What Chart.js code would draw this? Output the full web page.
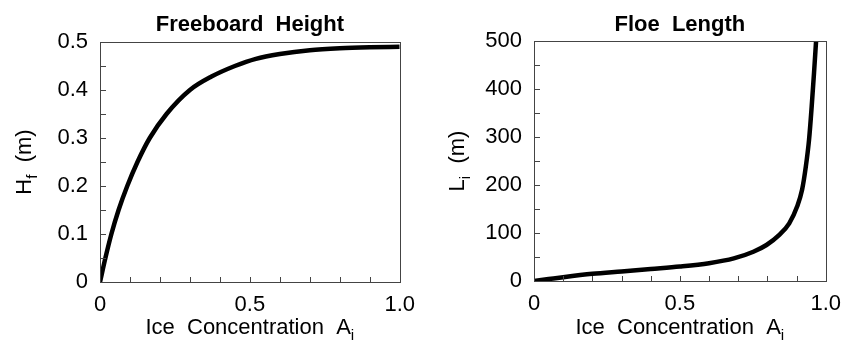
<!DOCTYPE html>
<html>
<head>
<meta charset="utf-8">
<script src="https://cdn.jsdelivr.net/npm/chart.js@4/dist/chart.umd.min.js"></script>
<style>
  body { margin: 0; background: #fff; width: 851px; height: 343px; position: relative; overflow: hidden; }
  canvas { position: absolute; top: 0; }
</style>
</head>
<body>
<canvas id="left" width="425" height="343" style="left:0"></canvas>
<canvas id="right" width="421" height="343" style="left:430px"></canvas>
<script>
// Freeboard height H_f (m) vs ice concentration A_i
const freeboardA = [0, 0.018, 0.038, 0.062, 0.091, 0.125, 0.166, 0.222, 0.30, 0.372, 0.45, 0.52, 0.6, 0.7, 0.8, 0.9, 1.0];
const freeboardH = [0, 0.05, 0.1, 0.15, 0.2, 0.25, 0.3, 0.35, 0.40, 0.428, 0.45, 0.465, 0.475, 0.483, 0.487, 0.489, 0.49];

// Floe length L_i (m) vs ice concentration A_i
const floeA = [0, 0.05, 0.1, 0.2, 0.3, 0.4, 0.5, 0.6, 0.685, 0.752, 0.797, 0.841, 0.875, 0.902, 0.919, 0.932, 0.943, 0.952, 0.96, 0.967];
const floeL = [0, 4, 8, 15, 20, 25, 30, 37, 47, 61, 75, 96, 120, 155, 190, 239, 295, 364, 434, 500];

const xTickLabels = ['0', '0.5', '1.0'];
const freeboardTickLabels = ['0', '0.1', '0.2', '0.3', '0.4', '0.5'];
const floeTickLabels = ['0', '100', '200', '300', '400', '500'];

const FONT = '"Liberation Sans", Arial, sans-serif';
const AXIS = '#444';

function drawRich(ctx, parts, x, y, size) {
    let w = 0;
    parts.forEach(p => {
        ctx.font = (p.sub ? size * 0.7 : size) + 'px ' + FONT;
        w += ctx.measureText(p.t).width;
    });
    let cx = x - w / 2;
    ctx.textBaseline = 'alphabetic';
    ctx.textAlign = 'left';
    parts.forEach(p => {
        ctx.font = (p.sub ? size * 0.7 : size) + 'px ' + FONT;
        ctx.fillText(p.t, cx, p.sub ? y + size * 0.25 : y);
        cx += ctx.measureText(p.t).width;
    });
}

const framePlugin = {
    id: 'frame',
    afterDraw(chart, args, opts) {
        const ctx = chart.ctx;
        const a = chart.chartArea;
        const xs = chart.scales.x, ys = chart.scales.y;
        ctx.save();
        ctx.strokeStyle = AXIS;
        ctx.lineWidth = 1;
        ctx.strokeRect(Math.round(a.left) + 0.5, Math.round(a.top) + 0.5, Math.round(a.right - a.left), Math.round(a.bottom - a.top));
        ctx.beginPath();
        xs.ticks.forEach(t => {
            const px = Math.round(xs.getPixelForValue(t.value)) + 0.5;
            ctx.moveTo(px, a.bottom);
            ctx.lineTo(px, a.bottom - 5);
        });
        ys.ticks.forEach(t => {
            const py = Math.round(ys.getPixelForValue(t.value)) + 0.5;
            ctx.moveTo(a.left, py);
            ctx.lineTo(a.left + 6, py);
        });
        ctx.stroke();
        ctx.fillStyle = '#000';
        ctx.font = 'bold 22px ' + FONT;
        ctx.textAlign = 'center';
        ctx.textBaseline = 'alphabetic';
        const mid = (a.left + a.right) / 2;
        ctx.fillText(opts.title, mid, 31);
        drawRich(ctx, [{t: 'Ice  Concentration  A'}, {t: 'i', sub: true}], mid, 334, 22);
        ctx.translate(opts.yTitleX, (a.top + a.bottom) / 2);
        ctx.rotate(-Math.PI / 2);
        drawRich(ctx, [{t: opts.yTitle[0]}, {t: opts.yTitle[1], sub: true}, {t: '  (m)'}], 0, 0, 22);
        ctx.restore();
    }
};

function makeChart(id, xs, ys, yMax, yStep, yLabels, cfg) {
    const points = xs.map((v, i) => ({x: v, y: ys[i]}));
    return new Chart(document.getElementById(id), {
        type: 'scatter',
        data: {
            datasets: [{
                data: points,
                showLine: true,
                borderColor: '#000',
                borderWidth: 4.5,
                pointRadius: 0,
                cubicInterpolationMode: 'monotone',
            }]
        },
        options: {
            responsive: false,
            animation: false,
            events: [],
            layout: { padding: { left: 0, right: cfg.padRight, top: cfg.padTop, bottom: 0 } },
            plugins: {
                legend: { display: false },
                tooltip: { enabled: false },
                frame: { title: cfg.title, yTitle: cfg.yTitle, yTitleX: cfg.yTitleX },
            },
            scales: {
                x: {
                    type: 'linear',
                    min: 0,
                    max: 1,
                    afterFit: s => { s.height = cfg.xHeight; },
                    grid: { display: false, drawTicks: false },
                    border: { display: false },
                    ticks: {
                        stepSize: 0.1,
                        autoSkip: false,
                        maxRotation: 0,
                        padding: 10,
                        color: '#000',
                        font: { family: FONT, size: 22 },
                        callback: (v, i) => (i % 5 === 0 ? xTickLabels[i / 5] : ''),
                    }
                },
                y: {
                    min: 0,
                    max: yMax,
                    afterFit: s => { s.width = cfg.yWidth; },
                    grid: { display: false, drawTicks: false },
                    border: { display: false },
                    ticks: {
                        stepSize: yStep,
                        autoSkip: false,
                        padding: 12,
                        color: '#000',
                        font: { family: FONT, size: 22 },
                        callback: (v, i) => (i % 2 === 0 ? yLabels[i / 2] : ''),
                    }
                }
            }
        },
        plugins: [framePlugin]
    });
}

makeChart('left', freeboardA, freeboardH, 0.5, 0.05, freeboardTickLabels,
    { title: 'Freeboard  Height', yTitle: ['H', 'f'], yTitleX: 31, yWidth: 100, xHeight: 61, padRight: 25, padTop: 42 });
makeChart('right', floeA, floeL, 500, 50, floeTickLabels,
    { title: 'Floe  Length', yTitle: ['L', 'i'], yTitleX: 34, yWidth: 104, xHeight: 62, padRight: 17, padTop: 41 });
</script>
</body>
</html>
